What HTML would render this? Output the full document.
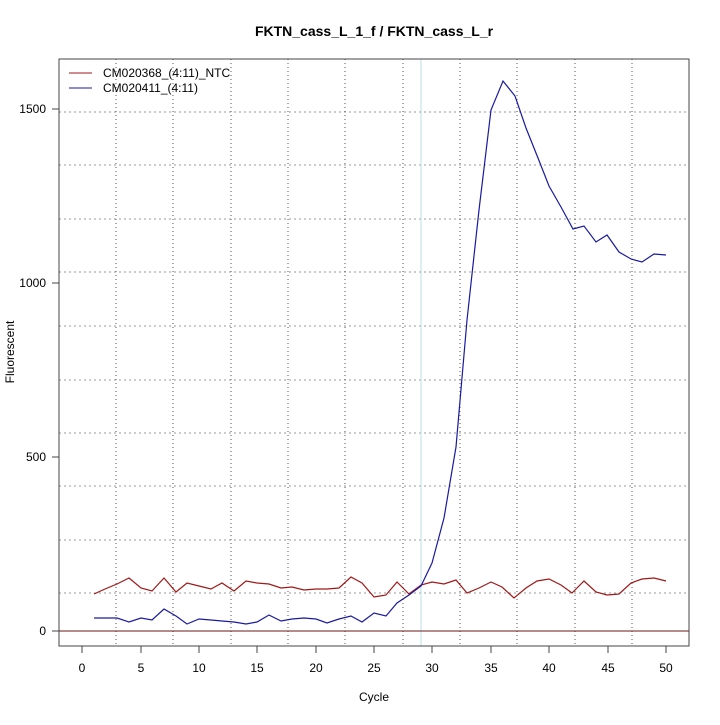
<!DOCTYPE html>
<html><head><style>body{margin:0;background:#fff}</style></head><body>
<svg width="720" height="720" xmlns="http://www.w3.org/2000/svg" font-family="Liberation Sans, sans-serif">
<rect width="720" height="720" fill="#fff"/>
<text x="374" y="36" text-anchor="middle" font-weight="bold" font-size="14">FKTN_cass_L_1_f / FKTN_cass_L_r</text>
<g stroke="#999" stroke-dasharray="2,3" stroke-width="1">
<line x1="59" x2="689" y1="112" y2="112"/><line x1="59" x2="689" y1="165" y2="165"/><line x1="59" x2="689" y1="219" y2="219"/><line x1="59" x2="689" y1="272" y2="272"/><line x1="59" x2="689" y1="326" y2="326"/><line x1="59" x2="689" y1="380" y2="380"/><line x1="59" x2="689" y1="433" y2="433"/><line x1="59" x2="689" y1="486" y2="486"/><line x1="59" x2="689" y1="540" y2="540"/><line x1="59" x2="689" y1="593" y2="593"/>
</g>
<g stroke="#555" stroke-dasharray="1,3" stroke-width="1">
<line y1="59" y2="646" x1="116" x2="116"/><line y1="59" y2="646" x1="173" x2="173"/><line y1="59" y2="646" x1="231" x2="231"/><line y1="59" y2="646" x1="288" x2="288"/><line y1="59" y2="646" x1="345" x2="345"/><line y1="59" y2="646" x1="403" x2="403"/><line y1="59" y2="646" x1="460" x2="460"/><line y1="59" y2="646" x1="517" x2="517"/><line y1="59" y2="646" x1="575" x2="575"/><line y1="59" y2="646" x1="632" x2="632"/>
</g>
<line x1="421" x2="421" y1="59" y2="646" stroke="#bcdfe4" stroke-width="1"/>
<line x1="59" x2="689" y1="631" y2="631" stroke="#6b1a1a" stroke-width="1"/>
<rect x="59" y="59" width="630" height="587" fill="none" stroke="#444" stroke-width="1"/>
<g stroke="#444">
<line x1="52" x2="59" y1="631" y2="631"/><line x1="52" x2="59" y1="457" y2="457"/><line x1="52" x2="59" y1="283" y2="283"/><line x1="52" x2="59" y1="109" y2="109"/>
<line y1="646" y2="653" x1="82" x2="82"/><line y1="646" y2="653" x1="141" x2="141"/><line y1="646" y2="653" x1="199" x2="199"/><line y1="646" y2="653" x1="257" x2="257"/><line y1="646" y2="653" x1="316" x2="316"/><line y1="646" y2="653" x1="374" x2="374"/><line y1="646" y2="653" x1="432" x2="432"/><line y1="646" y2="653" x1="491" x2="491"/><line y1="646" y2="653" x1="549" x2="549"/><line y1="646" y2="653" x1="608" x2="608"/><line y1="646" y2="653" x1="666" x2="666"/>
</g>
<g font-size="12" text-anchor="end">
<text x="46" y="635">0</text><text x="46" y="461">500</text><text x="46" y="287">1000</text><text x="46" y="113">1500</text>
</g>
<g font-size="12" text-anchor="middle">
<text x="82" y="672">0</text><text x="141" y="672">5</text><text x="199" y="672">10</text><text x="257" y="672">15</text><text x="316" y="672">20</text><text x="374" y="672">25</text><text x="432" y="672">30</text><text x="491" y="672">35</text><text x="549" y="672">40</text><text x="608" y="672">45</text><text x="666" y="672">50</text>
<text x="374" y="701">Cycle</text>
<text transform="translate(14,352) rotate(-90)">Fluorescent</text>
</g>
<polyline fill="none" stroke="#a01818" stroke-width="1.2" points="94,594 105,589 117,584 129,578 141,588 152,591 164,578 176,592 187,583 199,586 211,589 222,583 234,591 246,581 257,583 269,584 281,588 292,587 304,590 316,589 327,589 339,588 351,577 362,583 374,597 386,595 397,582 409,594 421,585 432,582 444,584 456,580 467,593 479,588 491,582 502,587 514,598 526,588 537,581 549,579 561,585 572,593 584,581 596,592 607,595 619,594 631,583 642,579 654,578 666,581"/>
<polyline fill="none" stroke="#1a1aa0" stroke-width="1.2" points="94,618 105,618 117,618 129,622 141,618 152,620 164,609 176,616 187,624 199,619 211,620 222,621 234,622 246,624 257,622 269,615 281,621 292,619 304,618 316,619 327,623 339,619 351,616 362,622 374,613 386,616 397,603 409,595 421,586 432,563 444,518 456,447 467,320 479,210 491,110 503,81 515,96 526,128 538,158 549,186 561,207 573,229 584,226 596,242 607,235 619,252 631,259 642,262 654,254 666,255"/>
<line x1="69" x2="92" y1="73" y2="73" stroke="#a01818"/>
<line x1="69" x2="92" y1="88" y2="88" stroke="#1a1aa0"/>
<g font-size="12"><text x="103" y="77">CM020368_(4:11)_NTC</text><text x="103" y="92">CM020411_(4:11)</text></g>
</svg>
</body></html>
